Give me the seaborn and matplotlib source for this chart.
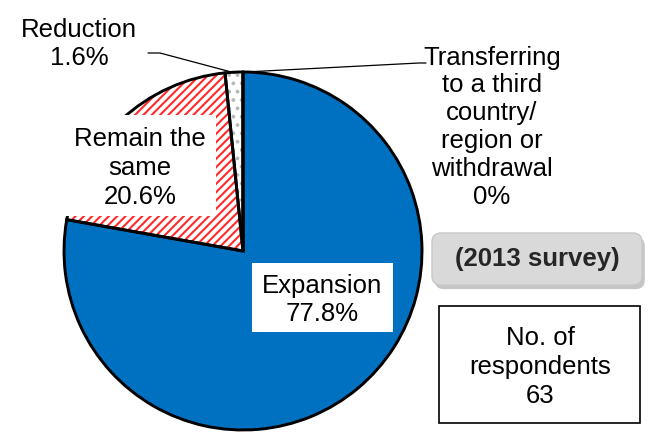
import matplotlib
matplotlib.use("Agg")
import matplotlib.pyplot as plt
import matplotlib.patches as mpatches
import matplotlib.patheffects as pe
import seaborn as sns

# survey results (share of respondents, %)
labels = ["Expansion", "Remain the\nsame", "Reduction",
          "Transferring\nto a third\ncountry/\nregion or\nwithdrawal"]
shares = [77.8, 20.6, 1.6, 0.0]
fill_colors = ["#0070C0", "white", "white", "white"]
hatch_colors = ["#0070C0", "#FF2a2a", "#B8B8B8", "white"]
hatches = [None, "////", "..", None]
survey_year = 2013
respondents = 63

sns.set_theme(style="white")
plt.rcParams["font.family"] = ["Liberation Sans", "DejaVu Sans"]
plt.rcParams["hatch.linewidth"] = 1.5

fig = plt.figure(figsize=(6.54, 4.33), dpi=100)
ax = fig.add_axes([0, 0, 1, 1])

center = (243, 251)
radius = 179

# filled / hatched layer
wedges, _ = ax.pie(shares, colors=fill_colors, startangle=-90, counterclock=True,
                   center=center, radius=radius, wedgeprops=dict(linewidth=0))
for w, h, hc in zip(wedges, hatches, hatch_colors):
    w.set_edgecolor(hc)
    if h:
        w.set_hatch(h)

# black outline layer
ax.pie(shares, startangle=-90, counterclock=True, center=center, radius=radius,
       wedgeprops=dict(fill=False, edgecolor="black", linewidth=2.1))

ax.set_xlim(0, 654)
ax.set_ylim(433, 0)
ax.axis("off")

def fmt(v):
    return f"{v:g}%"

fs = 18.5
txt = dict(ha="center", va="center", fontsize=fs, color="black", linespacing=1.25, zorder=6)

# label boxes inside the pie
ax.add_patch(mpatches.Rectangle((62, 115), 154, 101, facecolor="white", edgecolor="none", zorder=5))
ax.add_patch(mpatches.Rectangle((252, 263), 141, 69, facecolor="white", edgecolor="none", zorder=5))

ax.text(322, 300, f"{labels[0]}\n{fmt(shares[0])}", **txt)
ax.text(140, 168, f"{labels[1]}\n{fmt(shares[1])}", **txt)
ax.text(79, 44, f"{labels[2]}\n{fmt(shares[2])}", **txt)
ax.text(492, 127, f"{labels[3]}\n{fmt(shares[3])}", **{**txt, "linespacing": 1.2})

# leader lines
ax.plot([148, 160, 235], [53, 53, 73], color="black", lw=0.9, zorder=7)
ax.plot([245, 419, 426], [72, 63, 63], color="black", lw=0.9, zorder=7)

# survey badge
badge = mpatches.FancyBboxPatch((432, 233), 210, 52, boxstyle="round,pad=0,rounding_size=9",
                                facecolor="#D9D9D9", edgecolor="#C8C8C8", linewidth=1, zorder=5)
badge.set_path_effects([pe.SimplePatchShadow(offset=(2, -3), shadow_rgbFace="#8C8C8C", alpha=0.5),
                        pe.Normal()])
ax.add_patch(badge)
ax.text(537, 259, f"({survey_year} survey)", ha="center", va="center", fontsize=fs,
        fontweight="bold", zorder=6)

# respondents box
ax.add_patch(mpatches.Rectangle((439, 306), 201, 117, facecolor="white", edgecolor="black",
                                linewidth=1.2, zorder=5))
ax.text(540, 367, f"No. of\nrespondents\n{respondents}", **txt)

fig.savefig("out.png", dpi=100)
